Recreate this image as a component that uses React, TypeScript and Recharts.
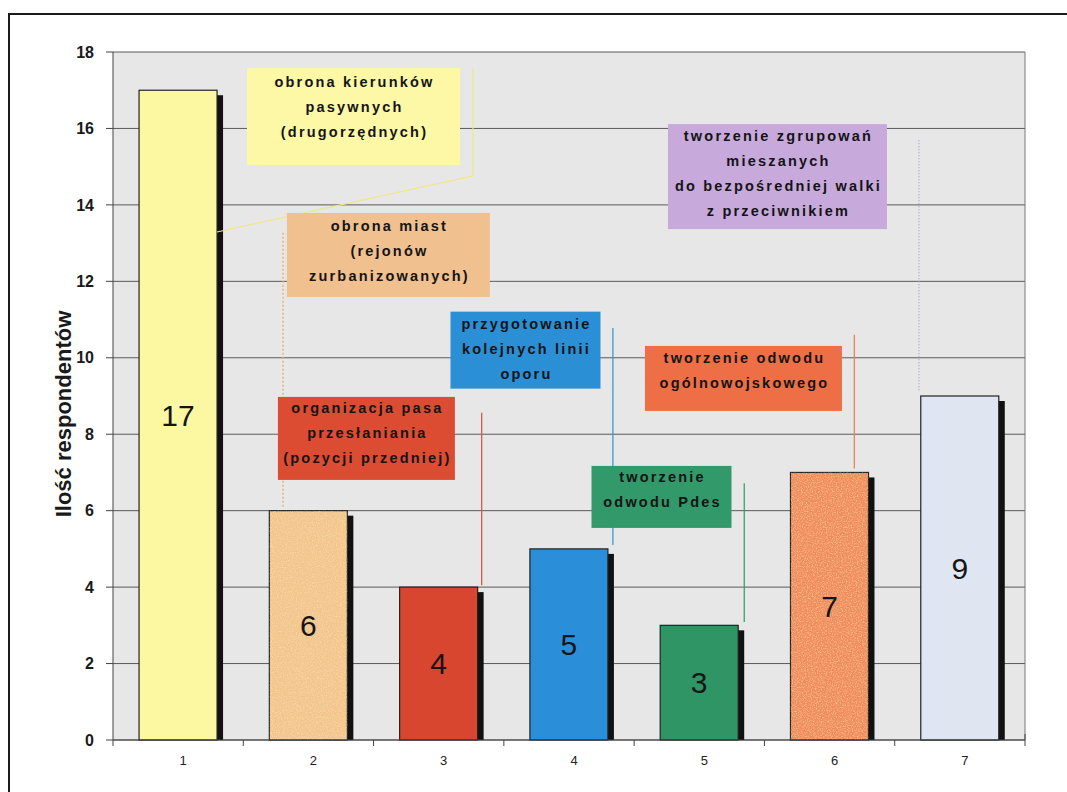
import React from "react";
import {
  BarChart,
  Bar,
  XAxis,
  YAxis,
  CartesianGrid,
  LabelList,
  ReferenceLine,
  ReferenceDot,
} from "recharts";

const CATEGORIES = ["1", "2", "3", "4", "5", "6", "7"];
const RESPONDENTS = [17, 6, 4, 5, 3, 7, 9];
const Y_TICKS = [0, 2, 4, 6, 8, 10, 12, 14, 16, 18];
const BAR_COLORS = [
  "#fcf8a2",
  "#f2c48e",
  "#d9462f",
  "#2a8fd8",
  "#2f9565",
  "#ef8b5d",
  "#dfe6f2",
];

const NOTE_LINES = [
  ["obrona kierunków", "pasywnych", "(drugorzędnych)"],
  ["obrona miast", "(rejonów", "zurbanizowanych)"],
  ["organizacja pasa", "przesłaniania", "(pozycji przedniej)"],
  ["przygotowanie", "kolejnych linii", "oporu"],
  ["tworzenie", "odwodu Pdes"],
  ["tworzenie odwodu", "ogólnowojskowego"],
  ["tworzenie zgrupowań", "mieszanych", "do bezpośredniej walki", "z przeciwnikiem"],
];

// box centre in data units (hidden numeric x axis, y axis), size in px
const NOTE_BOXES = [
  { x: 2.346, y: 16.31, w: 213, h: 97, pad: 14, fill: "#fdf8a6" },
  { x: 2.614, y: 12.69, w: 203, h: 84, pad: 13, fill: "#f1c08f" },
  { x: 2.445, y: 7.89, w: 177, h: 83, pad: 11, fill: "#dc4c33" },
  { x: 3.666, y: 10.2, w: 150, h: 77, pad: 12, fill: "#2b8fd6" },
  { x: 4.71, y: 6.36, w: 140, h: 62, pad: 11, fill: "#32996a" },
  { x: 5.339, y: 9.46, w: 197, h: 65, pad: 12, fill: "#ee6e45" },
  { x: 5.6, y: 14.74, w: 219, h: 105, pad: 12, fill: "#c7a9dc" },
];

// leader lines, data units
const LEADERS = [
  { from: [1.298, 13.29], to: [3.263, 14.76], color: "#efe68c", dash: undefined },
  { from: [3.263, 14.76], to: [3.263, 17.58], color: "#efe68c", dash: undefined },
  { from: [1.805, 6.1], to: [1.805, 13.3], color: "#d9b070", dash: "2 2" },
  { from: [3.33, 4.05], to: [3.33, 8.56], color: "#e04a33", dash: undefined },
  { from: [4.337, 5.1], to: [4.337, 10.78], color: "#2f92d6", dash: undefined },
  { from: [5.345, 3.09], to: [5.345, 6.72], color: "#2f9a66", dash: undefined },
  { from: [6.19, 7.1], to: [6.19, 10.6], color: "#ee7a4c", dash: undefined },
  { from: [6.686, 9.15], to: [6.686, 15.7], color: "#a79ac8", dash: "1 2" },
];

const W = 1067;
const H = 792;
const MARGIN = { top: 52, right: 42, bottom: 22, left: 0 };
const Y_AXIS_W = 113;
const X_AXIS_H = 30;
const BAND = (W - MARGIN.left - MARGIN.right - Y_AXIS_W) / CATEGORIES.length;
const PLOT_BOTTOM = H - MARGIN.bottom - X_AXIS_H;

const chartData = CATEGORIES.map((cat, i) => ({ cat, pos: i + 1, value: RESPONDENTS[i] }));

const ShadowBar = (p: any) => {
  const { x, y, width, height, index } = p;
  const fill = BAR_COLORS[index] ?? p.fill;
  return (
    <g>
      <rect x={x + 6} y={y + 5} width={width} height={Math.max(0, height - 5)} fill="#111" />
      <rect x={x} y={y} width={width} height={height} fill={fill} stroke="#222" strokeWidth={1.2} />
      {(index === 1 || index === 5) && (
        <rect x={x} y={y} width={width} height={height} fill={fill} filter="url(#grain)" opacity={0.55} />
      )}
    </g>
  );
};

const XTick = (p: any) => {
  const { x, index } = p;
  const last = index === CATEGORIES.length - 1;
  return (
    <g>
      <line x1={x - BAND / 2} y1={PLOT_BOTTOM} x2={x - BAND / 2} y2={PLOT_BOTTOM + 6} stroke="#444" />
      {last && (
        <line x1={x + BAND / 2} y1={PLOT_BOTTOM - 6} x2={x + BAND / 2} y2={PLOT_BOTTOM + 6} stroke="#444" />
      )}
      <text
        x={x + 5}
        y={PLOT_BOTTOM + 25}
        textAnchor="middle"
        fontFamily="Arial, 'Liberation Sans'"
        fontSize={13}
        fill="#222"
      >
        {p.payload.value}
      </text>
    </g>
  );
};

const noteShape = (i: number) => (p: any) => {
  const { cx, cy } = p;
  const b = NOTE_BOXES[i];
  const x0 = cx - b.w / 2;
  const y0 = cy - b.h / 2;
  return (
    <g>
      <rect x={x0} y={y0} width={b.w} height={b.h} fill={b.fill} />
      {NOTE_LINES[i].map((t, k) => (
        <text
          key={k}
          x={cx + 1}
          y={y0 + b.pad + k * 25 + 5}
          textAnchor="middle"
          fontFamily="Arial, 'Liberation Sans'"
          fontWeight="bold"
          fontSize={14.5}
          letterSpacing={2.2}
          fill="#141414"
        >
          {t}
        </text>
      ))}
    </g>
  );
};

const YLabel = () => (
  <text
    transform={`translate(63, 414) rotate(-90)`}
    textAnchor="middle"
    dominantBaseline="central"
    fontFamily="Arial, 'Liberation Sans'"
    fontWeight="bold"
    fontSize={22}
    fill="#1a1a1a"
  >
    Ilość respondentów
  </text>
);

export default function App() {
  return (
    <div
      style={{
        position: "absolute",
        left: 0,
        top: 0,
        width: W,
        height: H,
        overflow: "hidden",
        background: "#fff",
      }}
    >
      <svg width={0} height={0} style={{ position: "absolute" }}>
        <defs>
          <filter id="grain" x="0" y="0" width="100%" height="100%">
            <feTurbulence type="fractalNoise" baseFrequency="0.8" numOctaves={2} seed={3} result="n" />
            <feColorMatrix
              in="n"
              type="matrix"
              values="0 0 0 0 1  0 0 0 0 0.85  0 0 0 0 0.45  0 0 0 2.2 -0.9"
              result="s"
            />
            <feComposite in="s" in2="SourceGraphic" operator="in" />
          </filter>
        </defs>
      </svg>
      <div
        style={{
          position: "absolute",
          left: 8,
          top: 13,
          width: W + 20,
          height: H + 20,
          border: "2px solid #1a1a1a",
        }}
      />
      <div style={{ position: "absolute", left: 0, top: 0 }}>
        <BarChart width={W} height={H} data={chartData} margin={MARGIN} barCategoryGap="20%">
          <CartesianGrid vertical={false} stroke="#5a5a5a" fill="#e7e7e7" />
          <XAxis
            dataKey="cat"
            height={X_AXIS_H}
            tickLine={false}
            axisLine={{ stroke: "#444" }}
            tick={<XTick />}
            interval={0}
          />
          <XAxis
            xAxisId="n"
            dataKey="pos"
            type="number"
            domain={[0.5, 7.5]}
            hide
            allowDataOverflow
          />
          <YAxis
            width={Y_AXIS_W}
            domain={[0, 18]}
            ticks={Y_TICKS}
            interval={0}
            tickSize={7}
            tickMargin={12}
            axisLine={{ stroke: "#444" }}
            tickLine={{ stroke: "#444" }}
            tick={{ fontSize: 16, fontWeight: 700, fill: "#1a1a1a", fontFamily: "Arial, 'Liberation Sans'" }}
            label={{ content: () => <YLabel /> }}
          />
          <ReferenceLine xAxisId="n" x={7.5} stroke="#777" ifOverflow="visible" />
          {LEADERS.map((l, i) => (
            <ReferenceLine
              key={`l${i}`}
              xAxisId="n"
              segment={[
                { x: l.from[0], y: l.from[1] },
                { x: l.to[0], y: l.to[1] },
              ]}
              stroke={l.color}
              strokeWidth={1.2}
              strokeDasharray={l.dash}
              ifOverflow="visible"
            />
          ))}
          <Bar dataKey="value" shape={ShadowBar} isAnimationActive={false}>
            <LabelList
              dataKey="value"
              position="center"
              fill="#151515"
              fontSize={30}
              fontFamily="Arial, 'Liberation Sans'"
            />
          </Bar>
          {NOTE_BOXES.map((b, i) => (
            <ReferenceDot
              key={`n${i}`}
              xAxisId="n"
              x={b.x}
              y={b.y}
              r={1}
              ifOverflow="visible"
              shape={noteShape(i)}
            />
          ))}
        </BarChart>
      </div>
    </div>
  );
}
